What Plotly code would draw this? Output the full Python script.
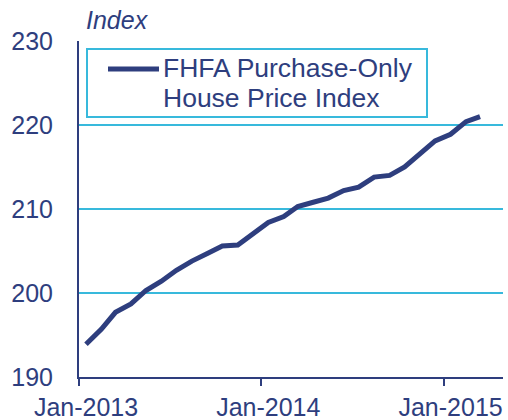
import plotly.graph_objects as go
import pandas as pd

# Monthly FHFA purchase-only HPI, Jan-2013 .. Mar-2015 (plotted mid-month)
months = pd.date_range("2013-01-01", "2015-03-01", freq="MS") + pd.Timedelta(days=14)
hpi = [193.9, 195.7, 197.7, 198.7, 200.3, 201.4, 202.7, 203.8, 204.7, 205.6,
       205.7, 207.0, 208.4, 209.1, 210.3, 210.8, 211.3, 212.2, 212.6, 213.8,
       214.0, 215.0, 216.5, 218.1, 218.9, 220.4, 221.0]

x_tick_vals = ["2013-01-01", "2014-01-01", "2015-01-01"]
x_tick_text = ["Jan-2013", "Jan-2014", "Jan-2015"]
y_tick_vals = [190, 200, 210, 220, 230]

series_name_line1 = "FHFA Purchase-Only"
series_name_line2 = "House Price Index"
y_unit = "Index"

NAVY = "#2E3E7E"
CYAN = "#38B9DC"
FONT = "Liberation Sans, Arial, sans-serif"

fig = go.Figure()
fig.add_trace(go.Scatter(
    x=months, y=hpi, mode="lines",
    line=dict(color=NAVY, width=5),
    showlegend=False,
))

W, H = 508, 420
L, R, T, B = 79, 5, 41, 43
pw, ph = W - L - R, H - T - B

def px_x(x):
    return (x - L) / pw

def px_y(y):
    return (H - B - y) / ph

fig.update_layout(
    width=W, height=H,
    margin=dict(l=L, r=R, t=T, b=B, autoexpand=False),
    paper_bgcolor="white", plot_bgcolor="white",
    font=dict(family=FONT, size=25, color=NAVY),
    xaxis=dict(
        type="date", range=["2013-01-01", "2015-04-30"],
        tickvals=x_tick_vals, ticktext=x_tick_text,
        ticks="outside", ticklen=7, tickwidth=2, tickcolor=NAVY,
        showline=True, linecolor=NAVY, linewidth=2,
        showgrid=False, zeroline=False, automargin=False,
        ticklabelshift=7,
        tickfont=dict(family=FONT, size=25, color=NAVY),
    ),
    yaxis=dict(
        range=[190, 230], tickvals=y_tick_vals,
        showgrid=True, gridcolor=CYAN, gridwidth=2,
        showline=True, linecolor=NAVY, linewidth=2,
        ticks="", zeroline=False, automargin=False,
        ticklabelstandoff=19,
        tickfont=dict(family=FONT, size=25, color=NAVY),
    ),
)

# legend box (drawn manually)
fig.add_shape(type="rect", xref="paper", yref="paper",
              x0=px_x(87), x1=px_x(427), y0=px_y(117), y1=px_y(49),
              line=dict(color=CYAN, width=2), fillcolor="white", layer="above")
fig.add_shape(type="line", xref="paper", yref="paper",
              x0=px_x(108), x1=px_x(159), y0=px_y(69), y1=px_y(69),
              line=dict(color=NAVY, width=5), layer="above")
fig.add_annotation(xref="paper", yref="paper", x=px_x(161), y=px_y(68),
                   xanchor="left", yanchor="middle", showarrow=False,
                   text=series_name_line1,
                   font=dict(family=FONT, size=26.5, color=NAVY))
fig.add_annotation(xref="paper", yref="paper", x=px_x(161), y=px_y(98),
                   xanchor="left", yanchor="middle", showarrow=False,
                   text=series_name_line2,
                   font=dict(family=FONT, size=26.5, color=NAVY))
fig.add_annotation(xref="paper", yref="paper", x=px_x(84), y=px_y(20),
                   xanchor="left", yanchor="middle", showarrow=False,
                   text="<i>" + y_unit + "</i>",
                   font=dict(family=FONT, size=25, color=NAVY))

fig.write_html("out.html", config={"displayModeBar": False},
               post_script="document.body.style.margin='0';document.body.style.overflow='hidden';")
